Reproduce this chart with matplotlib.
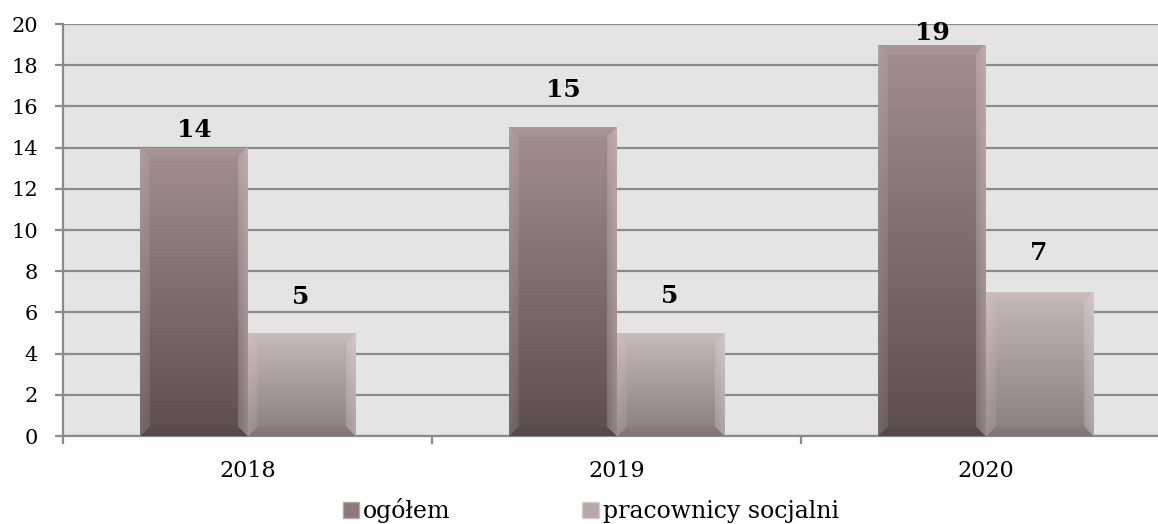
import numpy as np
import matplotlib
matplotlib.use('Agg')
import matplotlib.pyplot as plt
from matplotlib.patches import Patch
from matplotlib.colors import to_rgb

# Data
years = ['2018', '2019', '2020']
ogolem = [14, 15, 19]
pracownicy = [5, 5, 7]
series_names = ['ogółem', 'pracownicy socjalni']

# Gradient colours (top, bottom) per series
dark_top, dark_bottom = '#a38f90', '#5c4d4e'
light_top, light_bottom = '#c6b8b8', '#8a7e7e'

# label gaps above the bars (points), as placed in the original
label_gap = [[4, 18, 0], [17, 18, 19]]

plt.rcParams['font.family'] = ['DejaVu Serif']

fig = plt.figure(figsize=(11.58, 5.24), dpi=100)
ax = fig.add_axes([63 / 1158, 1 - 436 / 524, 1107 / 1158, 412 / 524])
ax.set_facecolor('#e4e4e4')

x = np.arange(len(years))
w = 0.29
ax.set_xlim(-0.5, len(years) - 0.5)
ax.set_ylim(0, 20)

bars1 = ax.bar(x - w / 2, ogolem, w, color='none', zorder=3)
bars2 = ax.bar(x + w / 2, pracownicy, w, color='none', zorder=3)

# pixels per data unit, used to keep the bevel a constant size
px_x = ax.transData.transform((1, 0))[0] - ax.transData.transform((0, 0))[0]
px_y = ax.transData.transform((0, 1))[1] - ax.transData.transform((0, 0))[1]
bevel_px = 10


def shade(bar, top, bottom):
    x0, bw, h = bar.get_x(), bar.get_width(), bar.get_height()
    W, H = bw * px_x, h * px_y
    nx, ny = int(W) + 1, int(H) + 1
    s = np.linspace(0, 1, nx)[None, :] * np.ones((ny, 1))
    t = np.linspace(1, 0, ny)[:, None] * np.ones((1, nx))
    c_top, c_bot = np.array(to_rgb(top)), np.array(to_rgb(bottom))
    img = c_bot * (1 - t[..., None]) + c_top * t[..., None]
    # bevel: shade by nearest edge, fading towards the inside
    d = np.stack([s * W, (1 - s) * W, (1 - t) * H, t * H])
    edge = np.argmin(d, axis=0)
    dmin = np.min(d, axis=0)
    near = dmin < bevel_px
    fade = 0.55 + 0.45 * (1 - dmin / bevel_px)
    amount = np.array([0.18, 0.38, 0.10, -0.07])[edge] * near * fade
    amount = amount[..., None]
    pink = np.array([0.93, 0.87, 0.87])
    img = np.where(amount >= 0, img * (1 - amount) + pink * amount,
                   img * (1 + amount))
    im = ax.imshow(img, extent=(x0, x0 + bw, 0, h), aspect='auto',
                   zorder=3, interpolation='bilinear')
    im.set_clip_path(bar)


for b in bars1:
    shade(b, dark_top, dark_bottom)
for b in bars2:
    shade(b, light_top, light_bottom)

# value labels
for bars, gaps in zip((bars1, bars2), label_gap):
    for b, g in zip(bars, gaps):
        ax.annotate(str(int(b.get_height())),
                    (b.get_x() + b.get_width() / 2, b.get_height()),
                    xytext=(0, g), textcoords='offset points',
                    ha='center', va='bottom', fontsize=18, fontweight='bold',
                    zorder=5)

# grid and axes
ax.set_yticks(range(0, 21, 2))
ax.yaxis.grid(True, color='#8a8a8a', linewidth=1.6, zorder=1)
ax.set_axisbelow(True)
for side in ('top', 'right'):
    ax.spines[side].set_visible(False)
ax.spines['left'].set_color('#8a8a8a')
ax.spines['left'].set_linewidth(1.6)
ax.spines['bottom'].set_color('#8a8a8a')
ax.spines['bottom'].set_linewidth(1.6)

ax.set_xticks(x)
ax.set_xticklabels(years)
ax.set_xticks(np.arange(len(years) + 1) - 0.5, minor=True)
ax.tick_params(axis='x', which='major', length=0, pad=17, labelsize=16)
ax.tick_params(axis='x', which='minor', length=6, width=1.6, color='#8a8a8a')
ax.tick_params(axis='y', length=6, width=1.6, color='#8a8a8a', pad=12,
               labelsize=15)

handles = [Patch(facecolor='#8a7a7b', edgecolor='#b5a8a8'),
           Patch(facecolor='#b4a8a8', edgecolor='#d6cccc')]
fig.legend(handles, series_names, loc='center', bbox_to_anchor=(0.51, 0.025),
           ncol=2, frameon=False, fontsize=17, handlelength=0.7,
           handleheight=0.7, handletextpad=0.15, columnspacing=5.6)

fig.savefig('out.png', dpi=100)
